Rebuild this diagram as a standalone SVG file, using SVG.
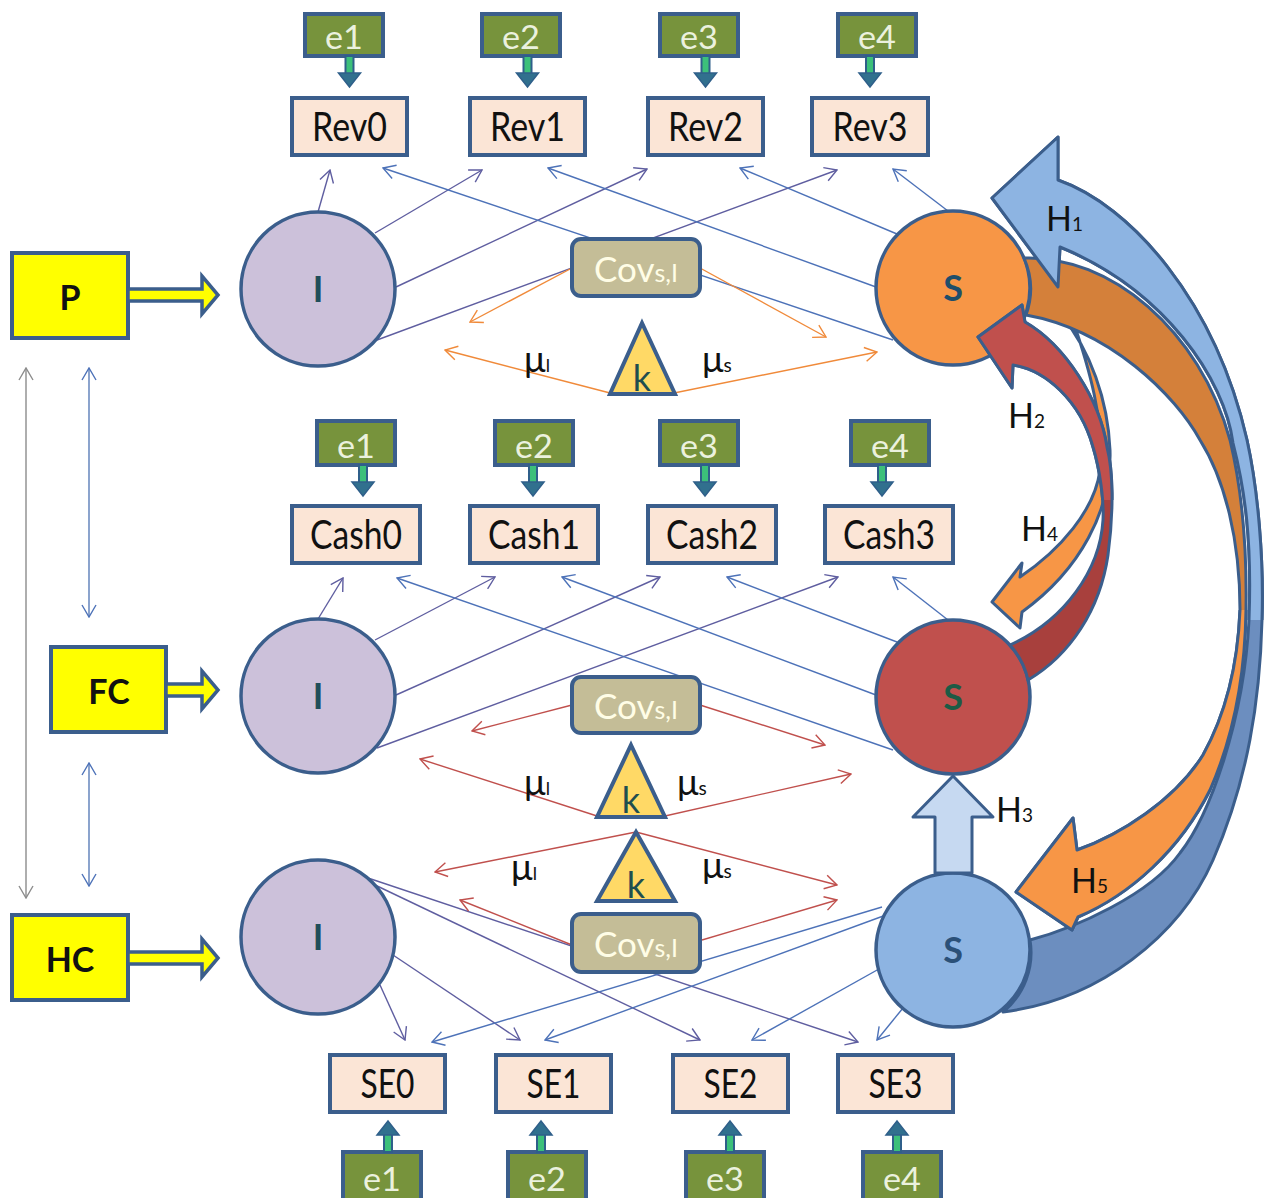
<svg xmlns="http://www.w3.org/2000/svg" width="1269" height="1198" viewBox="0 0 1269 1198">
<defs>
<style>
.t{font-family:Lato,"Open Sans","Liberation Sans",sans-serif}
.box{fill:#FBE5D6;stroke:#3B5E8C;stroke-width:4}
.ebox{fill:#77933C;stroke:#3B5E8C;stroke-width:4}
.etx{fill:#EBF1DE;font-size:32px}
.btx{fill:#111;font-size:40px}
.cov{fill:#C4BD97;stroke:#3B5E8C;stroke-width:4}
.ctx{fill:#FFFDE6;font-size:35px}
.tri{fill:#FFD966;stroke:#3B5E8C;stroke-width:4;stroke-linejoin:miter}
.ktx{fill:#1F4E4F;font-size:36px}
.yel{fill:#FFFF00;stroke:#3B5E8C;stroke-width:4}
.yarr{fill:#FFFF00;stroke:#3B5E8C;stroke-width:3.5;stroke-linejoin:miter}
.ytx{fill:#111;font-size:34px;font-weight:700}
.circ{stroke:#3B5E8C;stroke-width:3.5}
.ntx{font-size:36px;font-weight:700}
.ln{fill:none;stroke-width:1.4}
.lp{stroke:#5F5EA0;marker-end:url(#mp)}
.lb{stroke:#4D72B8;marker-end:url(#mb)}
.lo{stroke:#F08A3A;marker-end:url(#mo)}
.lr{stroke:#C0504D;marker-end:url(#mr)}
.ha{stroke:#3B5E8C;stroke-width:3;stroke-linejoin:round}
.mu{fill:#111;font-size:36px}
.htx{fill:#111;font-size:34px}
</style>
<marker id="mp" viewBox="0 0 14 16" refX="13" refY="8" markerWidth="14" markerHeight="16" markerUnits="userSpaceOnUse" orient="auto-start-reverse"><path d="M1,1 L13,8 L1,15" fill="none" stroke="#5F5EA0" stroke-width="1.4"/></marker>
<marker id="mb" viewBox="0 0 14 16" refX="13" refY="8" markerWidth="14" markerHeight="16" markerUnits="userSpaceOnUse" orient="auto-start-reverse"><path d="M1,1 L13,8 L1,15" fill="none" stroke="#4D72B8" stroke-width="1.4"/></marker>
<marker id="mo" viewBox="0 0 14 16" refX="13" refY="8" markerWidth="14" markerHeight="16" markerUnits="userSpaceOnUse" orient="auto-start-reverse"><path d="M1,1 L13,8 L1,15" fill="none" stroke="#F08A3A" stroke-width="1.4"/></marker>
<marker id="mr" viewBox="0 0 14 16" refX="13" refY="8" markerWidth="14" markerHeight="16" markerUnits="userSpaceOnUse" orient="auto-start-reverse"><path d="M1,1 L13,8 L1,15" fill="none" stroke="#C0504D" stroke-width="1.4"/></marker>
<marker id="mg" viewBox="0 0 14 16" refX="13" refY="8" markerWidth="14" markerHeight="16" markerUnits="userSpaceOnUse" orient="auto-start-reverse"><path d="M1,1 L13,8 L1,15" fill="none" stroke="#8C8C8C" stroke-width="1.4"/></marker>
<g id="dn">
<rect x="-4" y="0" width="8" height="18" fill="#3CC07A" stroke="#2F5F8A" stroke-width="2"/>
<path d="M-11,17 L11,17 L0,31 Z" fill="#31708E" stroke="#2F5F8A" stroke-width="1.5"/>
</g>
<path id="h1p" d="M 1058,180 C 1130,205 1215,300 1247,440 C 1258,490 1264,560 1262,620 C 1260,700 1248,780 1213,860 C 1180,935 1100,1000 1003,1012 A 77 77 0 0 0 1030,940 C 1075,928 1150,895 1180,853 C 1210,815 1244,720 1249,620 C 1252,540 1245,490 1233,443 C 1225,380 1165,290 1060,247 L 1058,287 L 992,198 L 1058,137 Z"/>
<path id="h5p" d="M 1024,258 C 1110,255 1200,330 1230,440 C 1242,490 1247,550 1246,610 C 1245,680 1232,740 1210,790 C 1180,850 1130,895 1078,917 L 1072,930 L 1016,892 L 1073,818 L 1077,850 C 1120,835 1175,800 1203,755 C 1228,710 1238,660 1240,610 C 1240,540 1225,480 1200,440 C 1175,395 1110,330 1026,315 A 77 77 0 0 0 1024,258 Z"/>
<path id="h2p" d="M 1028,680 C 1070,655 1100,610 1108,555 C 1114,510 1113,470 1107,447 C 1100,400 1065,345 1025,322 L 1022,305 L 978,337 L 1012,388 L 1013,365 C 1045,370 1080,400 1093,447 C 1100,470 1104,500 1103,520 C 1100,570 1065,620 1010,645 A 77 77 0 0 1 1028,680 Z"/>
<clipPath id="cTop620"><rect x="900" y="0" width="400" height="620"/></clipPath>
<clipPath id="cBot610"><rect x="900" y="610" width="400" height="600"/></clipPath>
<clipPath id="cTop500"><rect x="900" y="0" width="400" height="500"/></clipPath>
</defs>

<rect x="0" y="0" width="1269" height="1198" fill="#FFFFFF"/>

<g id="connectors">
<g id="left-arrows">
<line class="ln" x1="26" y1="368" x2="26" y2="898" stroke="#8C8C8C" marker-start="url(#mg)" marker-end="url(#mg)"/>
<line class="ln" x1="89" y1="368" x2="89" y2="617" stroke="#5B7DB8" marker-start="url(#mb)" marker-end="url(#mb)"/>
<line class="ln" x1="89" y1="763" x2="89" y2="886" stroke="#5B7DB8" marker-start="url(#mb)" marker-end="url(#mb)"/>
</g>
<g id="row1-lines">
<line class="ln lp" x1="318" y1="212" x2="330" y2="170"/>
<line class="ln lp" x1="375" y1="233" x2="482" y2="170"/>
<line class="ln lp" x1="396" y1="287" x2="647" y2="169"/>
<line class="ln lp" x1="377" y1="340" x2="837" y2="170"/>
<line class="ln lb" x1="948" y1="211" x2="893" y2="169"/>
<line class="ln lb" x1="897" y1="234" x2="740" y2="168"/>
<line class="ln lb" x1="876" y1="287" x2="548" y2="168"/>
<line class="ln lb" x1="893" y1="340" x2="383" y2="168"/>
<line class="ln lo" x1="572" y1="268" x2="470" y2="322"/>
<line class="ln lo" x1="700" y1="268" x2="826" y2="337"/>
<line class="ln lo" x1="610" y1="393" x2="445" y2="350"/>
<line class="ln lo" x1="674" y1="393" x2="877" y2="352"/>
</g>
<g id="row2-lines">
<line class="ln lp" x1="318" y1="619" x2="343" y2="578"/>
<line class="ln lp" x1="375" y1="640" x2="495" y2="577"/>
<line class="ln lp" x1="396" y1="695" x2="660" y2="577"/>
<line class="ln lp" x1="377" y1="748" x2="838" y2="577"/>
<line class="ln lb" x1="948" y1="620" x2="893" y2="577"/>
<line class="ln lb" x1="897" y1="642" x2="727" y2="577"/>
<line class="ln lb" x1="876" y1="695" x2="562" y2="577"/>
<line class="ln lb" x1="893" y1="750" x2="397" y2="578"/>
<line class="ln lr" x1="572" y1="705" x2="472" y2="731"/>
<line class="ln lr" x1="700" y1="705" x2="825" y2="745"/>
<line class="ln lr" x1="597" y1="816" x2="420" y2="759"/>
<line class="ln lr" x1="665" y1="816" x2="851" y2="774"/>
</g>
<g id="row3-lines">
<line class="ln lp" x1="380" y1="985" x2="405" y2="1040"/>
<line class="ln lp" x1="393" y1="955" x2="520" y2="1040"/>
<line class="ln lp" x1="375" y1="885" x2="700" y2="1040"/>
<line class="ln lp" x1="365" y1="877" x2="858" y2="1042"/>
<line class="ln lb" x1="882" y1="907" x2="432" y2="1042"/>
<line class="ln lb" x1="886" y1="915" x2="545" y2="1040"/>
<line class="ln lb" x1="895" y1="960" x2="752" y2="1040"/>
<line class="ln lb" x1="903" y1="1008" x2="877" y2="1040"/>
<line class="ln lr" x1="636" y1="832" x2="435" y2="872"/>
<line class="ln lr" x1="636" y1="832" x2="837" y2="885"/>
<line class="ln lr" x1="572" y1="945" x2="460" y2="900"/>
<line class="ln lr" x1="702" y1="940" x2="837" y2="900"/>
</g>
</g>

<g id="node-P"><rect class="yel" x="12" y="253" width="116" height="85"/><path class="yarr" d="M128,289 L202,289 L202,276 L218,295 L202,314 L202,301 L128,301 Z"/><text class="t ytx" x="70" y="310" text-anchor="middle">P</text></g>
<g id="node-FC"><rect class="yel" x="51" y="647" width="115" height="85"/><path class="yarr" d="M166,684 L202,684 L202,671 L218,690 L202,709 L202,696 L166,696 Z"/><text class="t ytx" x="109" y="704" text-anchor="middle">FC</text></g>
<g id="node-HC"><rect class="yel" x="12" y="915" width="116" height="85"/><path class="yarr" d="M128,952 L202,952 L202,939 L218,958 L202,977 L202,964 L128,964 Z"/><text class="t ytx" x="70" y="972" text-anchor="middle">HC</text></g>

<g id="node-e1-top"><rect class="ebox" x="305" y="14" width="78" height="42"/><text class="t etx" x="344" y="49" text-anchor="middle" textLength="38" lengthAdjust="spacingAndGlyphs">e1</text><use href="#dn" transform="translate(349.5,56)"/></g>
<g id="node-e2-top"><rect class="ebox" x="482" y="14" width="78" height="42"/><text class="t etx" x="521" y="49" text-anchor="middle" textLength="38" lengthAdjust="spacingAndGlyphs">e2</text><use href="#dn" transform="translate(527.5,56)"/></g>
<g id="node-e3-top"><rect class="ebox" x="660" y="14" width="78" height="42"/><text class="t etx" x="699" y="49" text-anchor="middle" textLength="38" lengthAdjust="spacingAndGlyphs">e3</text><use href="#dn" transform="translate(705.5,56)"/></g>
<g id="node-e4-top"><rect class="ebox" x="838" y="14" width="78" height="42"/><text class="t etx" x="877" y="49" text-anchor="middle" textLength="38" lengthAdjust="spacingAndGlyphs">e4</text><use href="#dn" transform="translate(870,56)"/></g>

<g id="node-Rev0"><rect class="box" x="292" y="98" width="115" height="57"/><text class="t btx" x="349.5" y="141" text-anchor="middle" textLength="75" lengthAdjust="spacingAndGlyphs">Rev0</text></g>
<g id="node-Rev1"><rect class="box" x="470" y="98" width="115" height="57"/><text class="t btx" x="527.5" y="141" text-anchor="middle" textLength="75" lengthAdjust="spacingAndGlyphs">Rev1</text></g>
<g id="node-Rev2"><rect class="box" x="648" y="98" width="115" height="57"/><text class="t btx" x="705.5" y="141" text-anchor="middle" textLength="75" lengthAdjust="spacingAndGlyphs">Rev2</text></g>
<g id="node-Rev3"><rect class="box" x="812" y="98" width="116" height="57"/><text class="t btx" x="870" y="141" text-anchor="middle" textLength="75" lengthAdjust="spacingAndGlyphs">Rev3</text></g>

<g id="node-e1-mid"><rect class="ebox" x="317" y="421" width="78" height="44"/><text class="t etx" x="356" y="458" text-anchor="middle" textLength="38" lengthAdjust="spacingAndGlyphs">e1</text><use href="#dn" transform="translate(363,465)"/></g>
<g id="node-e2-mid"><rect class="ebox" x="495" y="421" width="78" height="44"/><text class="t etx" x="534" y="458" text-anchor="middle" textLength="38" lengthAdjust="spacingAndGlyphs">e2</text><use href="#dn" transform="translate(533,465)"/></g>
<g id="node-e3-mid"><rect class="ebox" x="660" y="421" width="78" height="44"/><text class="t etx" x="699" y="458" text-anchor="middle" textLength="38" lengthAdjust="spacingAndGlyphs">e3</text><use href="#dn" transform="translate(705,465)"/></g>
<g id="node-e4-mid"><rect class="ebox" x="851" y="421" width="78" height="44"/><text class="t etx" x="890" y="458" text-anchor="middle" textLength="38" lengthAdjust="spacingAndGlyphs">e4</text><use href="#dn" transform="translate(882,465)"/></g>

<g id="node-Cash0"><rect class="box" x="292" y="506" width="128" height="57"/><text class="t btx" x="356" y="549" text-anchor="middle" textLength="92" lengthAdjust="spacingAndGlyphs">Cash0</text></g>
<g id="node-Cash1"><rect class="box" x="470" y="506" width="128" height="57"/><text class="t btx" x="534" y="549" text-anchor="middle" textLength="92" lengthAdjust="spacingAndGlyphs">Cash1</text></g>
<g id="node-Cash2"><rect class="box" x="648" y="506" width="128" height="57"/><text class="t btx" x="712" y="549" text-anchor="middle" textLength="92" lengthAdjust="spacingAndGlyphs">Cash2</text></g>
<g id="node-Cash3"><rect class="box" x="825" y="506" width="128" height="57"/><text class="t btx" x="889" y="549" text-anchor="middle" textLength="92" lengthAdjust="spacingAndGlyphs">Cash3</text></g>

<g id="node-SE0"><rect class="box" x="330" y="1055" width="115" height="57"/><text class="t btx" x="387.5" y="1098" text-anchor="middle" textLength="54" lengthAdjust="spacingAndGlyphs">SE0</text></g>
<g id="node-SE1"><rect class="box" x="496" y="1055" width="115" height="57"/><text class="t btx" x="553.5" y="1098" text-anchor="middle" textLength="54" lengthAdjust="spacingAndGlyphs">SE1</text></g>
<g id="node-SE2"><rect class="box" x="673" y="1055" width="115" height="57"/><text class="t btx" x="730.5" y="1098" text-anchor="middle" textLength="54" lengthAdjust="spacingAndGlyphs">SE2</text></g>
<g id="node-SE3"><rect class="box" x="838" y="1055" width="115" height="57"/><text class="t btx" x="895.5" y="1098" text-anchor="middle" textLength="54" lengthAdjust="spacingAndGlyphs">SE3</text></g>

<g id="node-e1-bot"><rect class="ebox" x="343" y="1152" width="78" height="50"/><text class="t etx" x="382" y="1191" text-anchor="middle" textLength="38" lengthAdjust="spacingAndGlyphs">e1</text><use href="#dn" transform="translate(388,1152) scale(1,-1)"/></g>
<g id="node-e2-bot"><rect class="ebox" x="508" y="1152" width="78" height="50"/><text class="t etx" x="547" y="1191" text-anchor="middle" textLength="38" lengthAdjust="spacingAndGlyphs">e2</text><use href="#dn" transform="translate(541,1152) scale(1,-1)"/></g>
<g id="node-e3-bot"><rect class="ebox" x="686" y="1152" width="78" height="50"/><text class="t etx" x="725" y="1191" text-anchor="middle" textLength="38" lengthAdjust="spacingAndGlyphs">e3</text><use href="#dn" transform="translate(730,1152) scale(1,-1)"/></g>
<g id="node-e4-bot"><rect class="ebox" x="863" y="1152" width="78" height="50"/><text class="t etx" x="902" y="1191" text-anchor="middle" textLength="38" lengthAdjust="spacingAndGlyphs">e4</text><use href="#dn" transform="translate(897,1152) scale(1,-1)"/></g>

<g id="node-I1"><circle class="circ" cx="318" cy="289" r="77" fill="#CCC1DA"/><text class="t ntx" x="318" y="302" text-anchor="middle" fill="#1F4E5A">I</text></g>
<g id="node-I2"><circle class="circ" cx="318" cy="696" r="77" fill="#CCC1DA"/><text class="t ntx" x="318" y="709" text-anchor="middle" fill="#1F4E5A">I</text></g>
<g id="node-I3"><circle class="circ" cx="318" cy="937" r="77" fill="#CCC1DA"/><text class="t ntx" x="318" y="950" text-anchor="middle" fill="#1F4E5A">I</text></g>
<g id="node-S1"><circle class="circ" cx="953" cy="288" r="77" fill="#F79646"/><text class="t ntx" x="953" y="301" text-anchor="middle" fill="#1F4E6A">S</text></g>
<g id="node-S2"><circle class="circ" cx="953" cy="697" r="77" fill="#C0504D"/><text class="t ntx" x="953" y="710" text-anchor="middle" fill="#1D5B45">S</text></g>
<g id="node-S3"><circle class="circ" cx="953" cy="950" r="77" fill="#8DB4E2"/><text class="t ntx" x="953" y="963" text-anchor="middle" fill="#2B5078">S</text></g>

<g id="node-Cov1"><rect class="cov" x="572" y="239" width="128" height="57" rx="9"/><text class="t ctx" x="636" y="282" text-anchor="middle">Cov<tspan font-size="25">s,I</tspan></text></g>
<g id="node-Cov2"><rect class="cov" x="572" y="677" width="128" height="56" rx="9"/><text class="t ctx" x="636" y="719" text-anchor="middle">Cov<tspan font-size="25">s,I</tspan></text></g>
<g id="node-Cov3"><rect class="cov" x="572" y="914" width="128" height="58" rx="9"/><text class="t ctx" x="636" y="957" text-anchor="middle">Cov<tspan font-size="25">s,I</tspan></text></g>

<g id="node-k1"><path class="tri" d="M642,323 L675,394 L610,394 Z"/><text class="t ktx" x="642" y="391" text-anchor="middle">k</text></g>
<g id="node-k2"><path class="tri" d="M631,745 L665,817 L597,817 Z"/><text class="t ktx" x="631" y="813" text-anchor="middle">k</text></g>
<g id="node-k3"><path class="tri" d="M636,832 L675,901 L597,901 Z"/><text class="t ktx" x="636" y="898" text-anchor="middle">k</text></g>

<g id="mu-labels">
<text class="t mu" x="524" y="372">μ<tspan font-size="17">I</tspan></text>
<text class="t mu" x="702" y="372">μ<tspan font-size="19">s</tspan></text>
<text class="t mu" x="524" y="795">μ<tspan font-size="17">I</tspan></text>
<text class="t mu" x="677" y="795">μ<tspan font-size="19">s</tspan></text>
<text class="t mu" x="511" y="880">μ<tspan font-size="17">I</tspan></text>
<text class="t mu" x="702" y="878">μ<tspan font-size="19">s</tspan></text>
</g>

<g id="h-arrows">
<path id="H3" class="ha" fill="#C6D9F1" stroke-width="3.5" d="M935,873 L935,817 L913,817 L953,776 L993,817 L972,817 L972,873 Z"/>
<path id="H4" class="ha" fill="#F79646" d="M 1062,316 C 1090,350 1108,400 1110,450 C 1112,510 1080,570 1022,612 L 1020,628 L 992,602 L 1022,563 L 1020,577 C 1060,550 1095,510 1100,470 C 1104,420 1090,370 1072,318 Z"/>
<g id="H2">
<use href="#h2p" class="ha" fill="#A8403D"/>
<use href="#h2p" class="ha" fill="#C0504D" clip-path="url(#cTop500)"/>
</g>
<g id="H1-H5">
<use href="#h1p" class="ha" fill="#6C8EBF"/>
<use href="#h5p" class="ha" fill="#D4803A"/>
<use href="#h1p" class="ha" fill="#8DB4E2" clip-path="url(#cTop620)"/>
<use href="#h5p" class="ha" fill="#F79646" clip-path="url(#cBot610)"/>
</g>
</g>

<g id="h-labels">
<text class="t htx" x="1046" y="231">H<tspan font-size="19">1</tspan></text>
<text class="t htx" x="1008" y="428">H<tspan font-size="19">2</tspan></text>
<text class="t htx" x="996" y="822">H<tspan font-size="19">3</tspan></text>
<text class="t htx" x="1021" y="541">H<tspan font-size="19">4</tspan></text>
<text class="t htx" x="1071" y="893">H<tspan font-size="19">5</tspan></text>
</g>
</svg>
